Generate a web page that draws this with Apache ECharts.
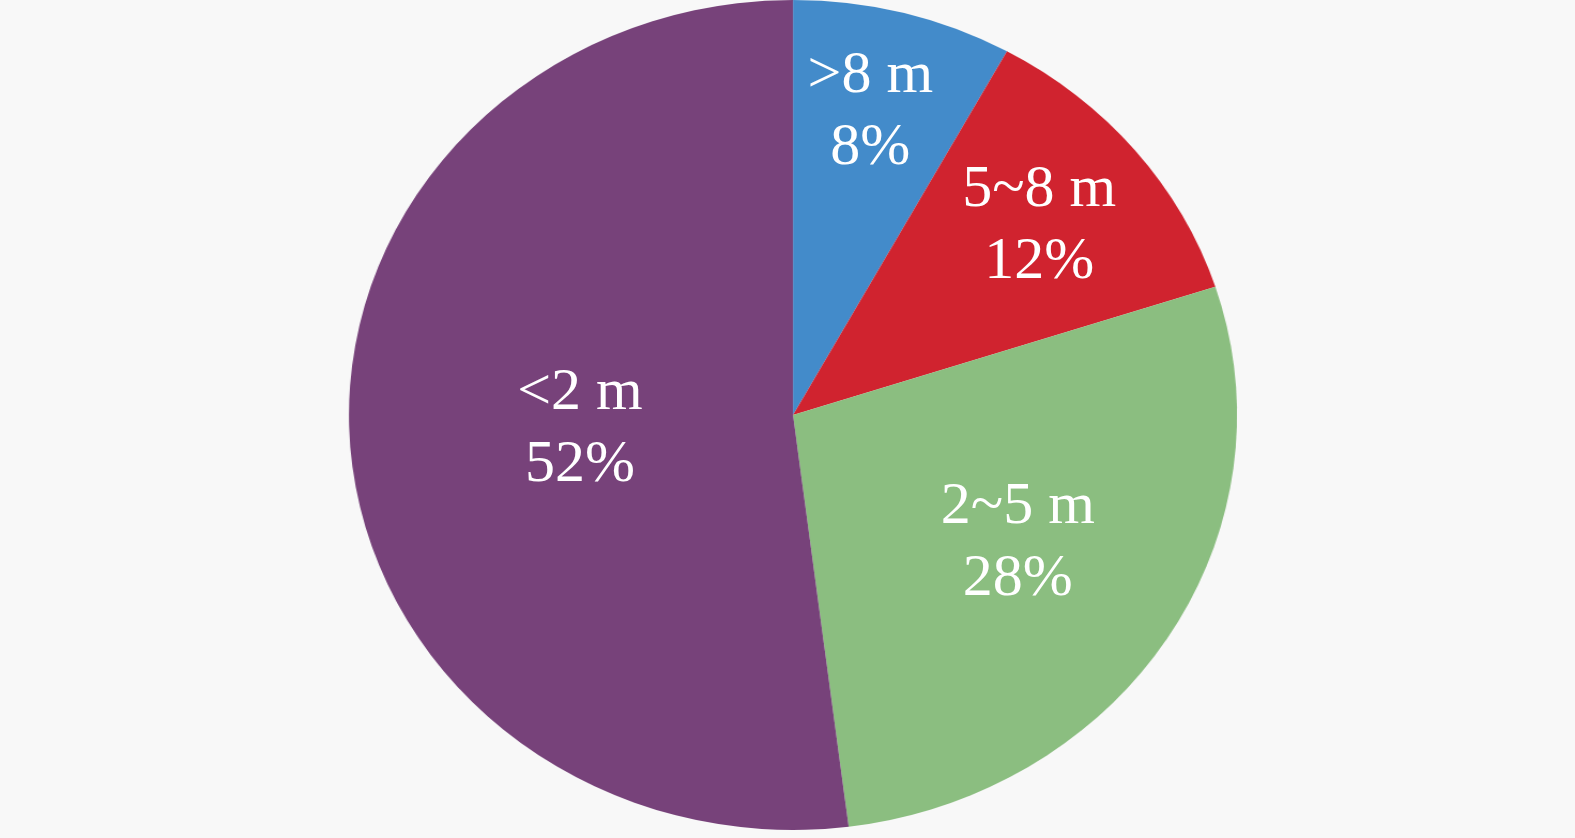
<!DOCTYPE html>
<html><head><meta charset="utf-8">
<script src="https://cdn.jsdelivr.net/npm/echarts@6/dist/echarts.min.js"></script>
<style>
html,body{margin:0;padding:0;background:#f8f8f8;overflow:hidden;}
#wrap{position:relative;width:1575px;height:838px;}
#pie{position:absolute;left:0;top:0;width:1472px;height:838px;transform:scaleX(1.07);transform-origin:0 0;}
#lab{position:absolute;left:0;top:0;width:1575px;height:838px;}
</style></head>
<body>
<div id="wrap"><div id="pie"></div><div id="lab"></div></div>
<script>
const categories = ['>8 m', '5~8 m', '2~5 m', '<2 m'];
const values = [8, 12, 28, 52];
const colors = ['#438BCA', '#D0232F', '#8BBE80', '#77427A'];
const labelOffsets = [[25, -99], [84, -55], [47, 15], [-3, 1]];

const data = categories.map((c, i) => ({ name: c, value: values[i] }));

const pie = echarts.init(document.getElementById('pie'));
pie.setOption({
  animation: false,
  backgroundColor: 'transparent',
  series: [{
    type: 'pie',
    center: [793 / 1.07, 415],
    radius: 415,
    startAngle: 90,
    clockwise: true,
    label: { show: false },
    labelLine: { show: false },
    data: data.map((d, i) => ({ name: d.name, value: d.value, itemStyle: { color: colors[i] } }))
  }]
});

const lab = echarts.init(document.getElementById('lab'));
lab.setOption({
  animation: false,
  backgroundColor: 'transparent',
  series: [{
    type: 'pie',
    center: [793, 415],
    radius: 415,
    startAngle: 90,
    clockwise: true,
    silent: true,
    itemStyle: { color: 'rgba(0,0,0,0)' },
    label: {
      show: true,
      position: 'inside',
      color: '#ffffff',
      fontFamily: '"Liberation Serif", "Times New Roman", serif',
      fontSize: 60,
      lineHeight: 72,
      align: 'center',
      formatter: p => p.name + '\n' + p.value + '%'
    },
    labelLine: { show: false },
    data: data.map((d, i) => ({ name: d.name, value: d.value, label: { offset: labelOffsets[i] } }))
  }]
});
</script>
</body></html>
